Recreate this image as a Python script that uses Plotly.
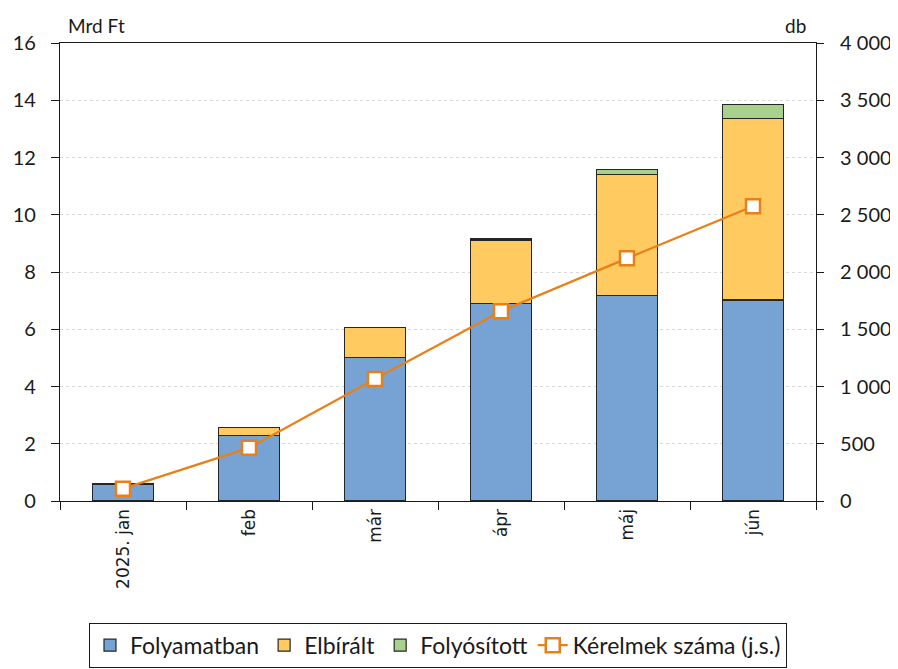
import plotly.graph_objects as go

categories = ["2025. jan", "feb", "már", "ápr", "máj", "jún"]
folyamatban = [0.58, 2.29, 5.01, 6.90, 7.19, 7.02]
elbiralt = [0.03, 0.29, 1.05, 2.20, 4.22, 6.33]
folyositott = [0.01, 0.0, 0.0, 0.05, 0.17, 0.51]
kerelmek = [108, 464, 1065, 1658, 2119, 2574]

left_ticks = [0, 2, 4, 6, 8, 10, 12, 14, 16]
right_ticks = [0, 500, 1000, 1500, 2000, 2500, 3000, 3500, 4000]
right_ticktext = ["0", "500", "1 000", "1 500", "2 000", "2 500", "3 000", "3 500", "4 000"]

FONT = "Lato"
line_col = "#262626"

fig = go.Figure()
fig.add_trace(go.Bar(x=categories, y=folyamatban, name="Folyamatban",
                     marker=dict(color="#77A3D4", line=dict(color=line_col, width=1.2))))
fig.add_trace(go.Bar(x=categories, y=elbiralt, name="Elbírált",
                     marker=dict(color="#FFCA60", line=dict(color=line_col, width=1.2))))
fig.add_trace(go.Bar(x=categories, y=folyositott, name="Folyósított",
                     marker=dict(color="#A9D18E", line=dict(color=line_col, width=1.2))))
fig.add_trace(go.Scatter(x=categories, y=kerelmek, name="Kérelmek száma (j.s.)", yaxis="y2",
                         mode="lines+markers",
                         line=dict(color="#E8801A", width=2.2),
                         marker=dict(symbol="square", size=14, color="white",
                                     line=dict(color="#E8801A", width=2.5))))

fig.update_layout(
    width=890, height=661,
    barmode="stack", bargap=0.52,
    paper_bgcolor="white", plot_bgcolor="white",
    margin=dict(l=52, r=82, t=35, b=168),
    font=dict(family=FONT, size=18, color="#1a1a1a"),
    showlegend=True,
    legend=dict(orientation="h", xref="paper", yref="container",
                x=0.5, xanchor="center", y=0.07, yanchor="top",
                bordercolor="#1a1a1a", borderwidth=1, font=dict(size=23),
                traceorder="normal", itemwidth=30, tracegroupgap=0),
    xaxis=dict(showline=True, linecolor="#1a1a1a", linewidth=1.2, mirror=True,
               ticks="outside", tickson="boundaries", ticklen=8, tickcolor="#1a1a1a",
               automargin=False,
               tickangle=-90, tickfont=dict(family="DejaVu Sans", size=17)),
    yaxis=dict(range=[0, 16], tickvals=left_ticks, showline=True, linecolor="#1a1a1a",
               linewidth=1.2, ticks="outside", ticklen=8, tickcolor="#1a1a1a",
               ticklabelstandoff=11, automargin=False,
               showgrid=True, gridcolor="#d9d9d9", griddash="dot", gridwidth=1,
               zeroline=False, tickfont=dict(size=20)),
    yaxis2=dict(range=[0, 4000], tickvals=right_ticks, ticktext=right_ticktext,
                overlaying="y", side="right", showline=True, linecolor="#1a1a1a",
                linewidth=1.2, ticks="outside", ticklen=7, tickcolor="#1a1a1a",
                ticklabelstandoff=12, automargin=False,
                showgrid=False, zeroline=False, tickfont=dict(size=20)),
    annotations=[
        dict(text="Mrd Ft", xref="paper", yref="paper", x=0.008, y=1.0, xanchor="left",
             yanchor="bottom", yshift=4, showarrow=False, font=dict(size=19)),
        dict(text="db", xref="paper", yref="paper", x=0.99, y=1.0, xanchor="right",
             yanchor="bottom", yshift=4, showarrow=False, font=dict(size=19)),
    ],
)

fig.write_html("out.html")
